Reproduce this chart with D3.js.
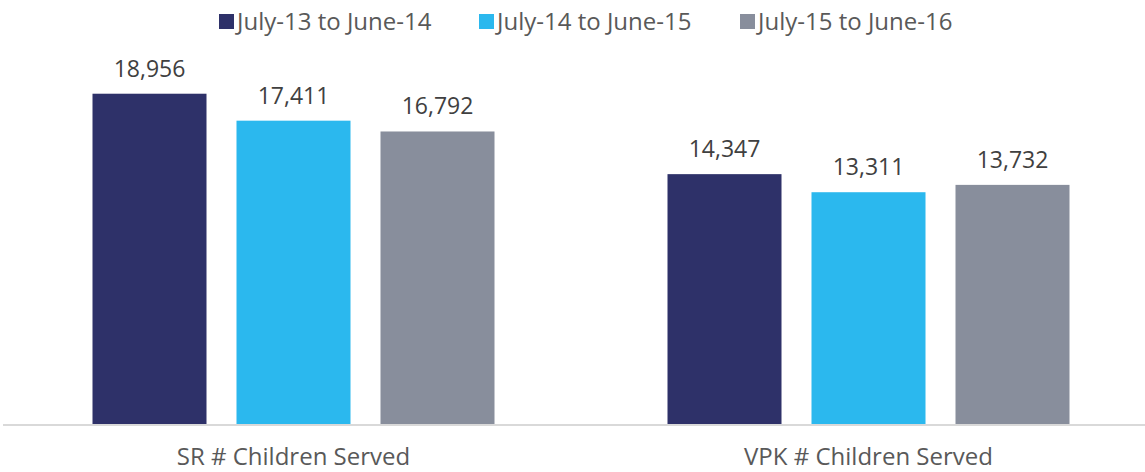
<!DOCTYPE html>
<html>
<head>
<meta charset="utf-8">
<script src="https://cdn.jsdelivr.net/npm/d3@7"></script>
<style>
  body { margin: 0; background: #fff; }
  text { font-family: "Open Sans", sans-serif; }
</style>
</head>
<body>
<div id="chart"></div>
<script>
var width = 1145
var height = 472

var categories = ["SR # Children Served", "VPK # Children Served"]
var seriesNames = ["July-13 to June-14", "July-14 to June-15", "July-15 to June-16"]
var seriesColors = ["#2e3169", "#2bb8ee", "#888e9c"]
var values = [
    [18956, 14347],
    [17411, 13311],
    [16792, 13732]
]

var baseY = 424.5
var topY = 75.5

var svg = d3.select('#chart')
    .append('svg')
    .attr('width', width)
    .attr('height', height)

var x0 = d3.scaleBand()
    .domain(categories)
    .range([6, 1156])

var x1 = d3.scaleBand()
    .domain(seriesNames)
    .range([0, 402])
    .paddingInner(30 / 144)

var y = d3.scaleLinear()
    .domain([0, 20000])
    .range([baseY, topY])

var rows = []
seriesNames.forEach(function (s, i) {
    categories.forEach(function (c, j) {
        rows.push({ series: s, cat: c, value: values[i][j], color: seriesColors[i] })
    })
})

function barX(d) {
    return x0(d.cat) + (x0.bandwidth() - 402) / 2 + x1(d.series)
}

svg.selectAll('rect.bar')
    .data(rows)
    .enter()
    .append('rect')
    .attr('class', 'bar')
    .attr('x', barX)
    .attr('y', function (d) { return y(d.value) })
    .attr('width', x1.bandwidth())
    .attr('height', function (d) { return baseY - y(d.value) })
    .attr('fill', function (d) { return d.color })

// axis line
svg.append('line')
    .attr('x1', 3).attr('x2', 1145)
    .attr('y1', baseY + 0.5).attr('y2', baseY + 0.5)
    .attr('stroke', '#d9d9d9')
    .attr('stroke-width', 2)

svg.selectAll('text.val')
    .data(rows)
    .enter()
    .append('text')
    .attr('class', 'val')
    .attr('x', function (d) { return barX(d) + x1.bandwidth() / 2 })
    .attr('y', function (d) { return y(d.value) - 17 })
    .attr('text-anchor', 'middle')
    .attr('font-size', 23)
    .attr('fill', '#404040')
    .text(function (d) { return d3.format(',')(d.value) })

svg.selectAll('text.cat')
    .data(categories)
    .enter()
    .append('text')
    .attr('class', 'cat')
    .attr('x', function (d) { return x0(d) + x0.bandwidth() / 2 })
    .attr('y', 465)
    .attr('text-anchor', 'middle')
    .attr('font-size', 24)
    .attr('fill', '#595959')
    .text(function (d) { return d })

// legend
var legendX = [219, 479, 740]
var legend = svg.selectAll('g.legend')
    .data(seriesNames)
    .enter()
    .append('g')
    .attr('class', 'legend')
    .attr('transform', function (d, i) { return 'translate(' + legendX[i] + ',0)' })

legend.append('rect')
    .attr('x', 0).attr('y', 14)
    .attr('width', 15).attr('height', 15)
    .attr('fill', function (d, i) { return seriesColors[i] })

legend.append('text')
    .attr('x', 18)
    .attr('y', 30)
    .attr('font-size', 24)
    .attr('fill', '#595959')
    .text(function (d) { return d })
</script>
</body>
</html>
